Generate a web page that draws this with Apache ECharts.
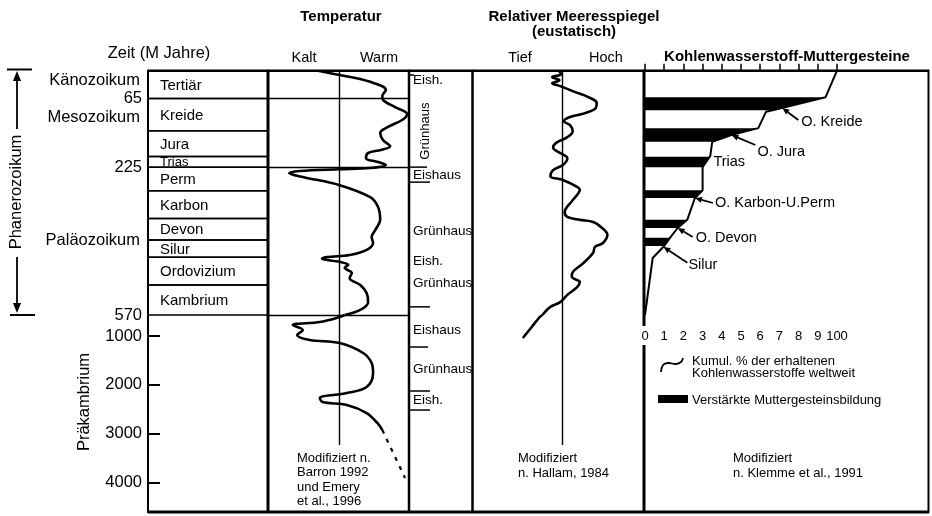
<!DOCTYPE html>
<html><head><meta charset="utf-8">
<script src="https://cdn.jsdelivr.net/npm/echarts@6/dist/echarts.min.js"></script>
<style>html,body{margin:0;padding:0;background:#fff}#chart{width:932px;height:516px}</style>
</head><body><div id="chart"></div>
<script>
// ---- Zeitskala (Millionen Jahre) ----
const periodNames = ['Tertiär','Kreide','Jura','Trias','Perm','Karbon','Devon','Silur','Ordovizium','Kambrium'];
const periodStart = [0,65,140,200,225,280,345,395,435,500];
const periodEnd   = [65,140,200,225,280,345,395,435,500,570];
const eraNames    = ['Känozoikum','Mesozoikum','Paläozoikum'];
const eraLabelAge = [22,110,395];
const phaneroTickLabels = [65,225,570];
const precambTickLabels = [1000,2000,3000,4000];

// ---- Temperatur (relativ: -1 kalt … +1 warm) ----
const tempAge = [0,10,26,45,59,68,85,101,115,131,145,162,176,185,192,204,213,220,227,230,234,239,248,267,295,318,348,372,388,402,418,430,435,439,446,453,460,472,484,500,519,540,558,570,611,713,775,877,979,1081,1143,1347,1552,1757,2043,2166,2268,2350,2411,2575,2779,2922];
const tempValue = [-0.30,0.01,0.44,0.66,0.61,0.62,0.79,0.96,0.89,0.69,0.58,0.62,0.72,0.59,0.41,0.38,0.55,0.66,0.44,0.01,-0.55,-0.70,-0.51,0.01,0.44,0.55,0.58,0.51,0.46,0.48,0.39,0.15,-0.17,-0.24,0.01,0.13,0.08,0.18,0.15,0.30,0.39,0.41,0.30,0.08,0.01,-0.27,-0.65,-0.51,-0.59,-0.41,0.01,0.34,0.46,0.48,0.39,0.11,-0.27,-0.23,0.11,0.39,0.54,0.61];
const tempUncertainAge = [2922,3904];
const tempUncertainValue = [0.61,0.93];

// ---- Eishaus / Grünhaus ----
const climateLabels   = ['Eish.','Grünhaus','Eishaus','Grünhaus','Eish.','Grünhaus','Eishaus','Grünhaus','Eish.'];
const climateLabelAge = [22,141,243,374,444,496,877,1675,2309];
const climateBounds   = [10,225,260,551,1225,2125,2514];

// ---- Relativer Meeresspiegel (relativ: -1 tief … +1 hoch) ----
const seaAge = [0,8,15,22,29,36,50,61,75,87,99,108,118,127,141,155,169,180,192,204,220,232,246,255,271,278,302,330,341,348,353,367,383,402,411,425,449,470,481,493,505,523,540,551,570,611,815,1040];
const seaValue = [-0.04,-0.01,-0.11,-0.03,-0.11,-0.02,0.15,0.29,0.39,0.38,0.26,0.09,0.02,0.09,0.12,0.06,-0.07,-0.10,-0.02,0.06,0.01,-0.10,-0.13,0.01,0.17,0.20,0.12,0.03,0.06,0.20,0.35,0.45,0.51,0.46,0.37,0.35,0.24,0.12,0.11,0.20,0.17,0.06,-0.02,-0.13,-0.22,-0.25,-0.34,-0.44];

// ---- Kohlenwasserstoff-Muttergesteine ----
const hcAge = [0,62,92,96,134,150,166,199,201,225,279,297,348,367,390,409,437,570];
const hcPct = [100,94,67,63,59,45,35,34,34,30,30,26,22,17,13,10,4,0];
const hcTickLabels = ['0','1','2','3','4','5','6','7','8','9','100'];
const sourceBandStart = [62,134,201,279,348,390];
const sourceBandEnd   = [92,166,225,297,367,409];
const hcNotes   = ['O. Kreide','O. Jura','Trias','O. Karbon-U.Perm','O. Devon','Silur'];
const hcNoteAge = [87,150,213,297,367,411];

// ---- Layout ----
const FONT = "'Liberation Sans', Arial, Helvetica, sans-serif";
const Y_TOP = 70.7, Y_MID = 315, Y_BOT = 512;
const PHANERO_END = 570, EARTH_AGE = 4600, LINE_END_AGE = 3230;
const boundLen = [5,18,21,21,19,21,21];
const verticalLabelIndex = 1;
// Pfeil-Versatz (px) vom Kurvenpunkt zum Pfeilende; null = ohne Pfeil
const noteArrow = [[16,12],[24,10],null,[18,5],[15,9],[24,16]];
const noteTextShift = [[3,2],[2,7],[7,0],[2,0],[3,1],[1,2]];

const chart = echarts.init(document.getElementById('chart'), null, {renderer:'canvas'});

function splitPhanero(ages, vals) {
  const top = [], bottom = [];
  ages.forEach((a, i) => {
    if (a <= PHANERO_END) top.push([vals[i], a]);
    if (a >= PHANERO_END) bottom.push([vals[i], a]);
  });
  return {top, bottom};
}
function hcAt(age) {
  for (let i = 1; i < hcAge.length; i++) {
    if (age <= hcAge[i]) {
      const t = (age - hcAge[i-1]) / (hcAge[i] - hcAge[i-1]);
      return hcPct[i-1] + t * (hcPct[i] - hcPct[i-1]);
    }
  }
  return 0;
}

const tempSplit = splitPhanero(tempAge, tempValue);
const seaSplit  = splitPhanero(seaAge, seaValue);

function gridPair(left, width) {
  return [
    {left, width, top: Y_TOP, height: Y_MID - Y_TOP},
    {left, width, top: Y_MID, height: Y_BOT - Y_MID}
  ];
}
const grids = [].concat(
  gridPair(148, 120),   // 0,1 Tabelle
  gridPair(268, 142),   // 2,3 Temperatur
  gridPair(409, 63),    // 4,5 Eis-/Grünhaus
  gridPair(473, 178),   // 6,7 Meeresspiegel
  [{left: 645, width: 192, top: Y_TOP, height: Y_MID - Y_TOP}] // 8 Muttergesteine
);

const hidden = {show:false};
function xAx(gridIndex, min, max) {
  return {gridIndex, type:'value', min, max, show:false};
}
function yAx(gridIndex, lower) {
  return {gridIndex, type:'value', inverse:true, show:false,
          min: lower ? PHANERO_END : 0, max: lower ? EARTH_AGE : PHANERO_END};
}
const xAxes = [xAx(0,0,1), xAx(1,0,1), xAx(2,-1,1), xAx(3,-1,1), xAx(4,0,1), xAx(5,0,1), xAx(6,-1,1), xAx(7,-1,1),
  {gridIndex:8, type:'value', min:0, max:100, interval:10, position:'bottom', offset:10,
   axisLine:{show:true, lineStyle:{color:'#000', width:2}},
   axisTick:{show:true, inside:true, length:7, lineStyle:{color:'#000', width:1.5}},
   axisLabel:{color:'#000', fontSize:13, fontFamily:FONT, margin:5,
              formatter: v => hcTickLabels[Math.round(v/10)]},
   splitLine:hidden}];
const yAxes = [
  {gridIndex:0, type:'value', inverse:true, min:0, max:PHANERO_END,
   axisLine:hidden, axisTick:hidden, splitLine:hidden,
   axisLabel:{show:true, customValues:phaneroTickLabels, color:'#000', fontSize:16.5, fontFamily:FONT, margin:6,
              formatter: v => String(v)}},
  {gridIndex:1, type:'value', inverse:true, min:PHANERO_END, max:EARTH_AGE,
   axisLine:hidden, splitLine:hidden,
   axisTick:{show:true, inside:true, length:12, customValues:precambTickLabels, lineStyle:{color:'#000', width:2}},
   axisLabel:{show:true, customValues:precambTickLabels, color:'#000', fontSize:16.5, fontFamily:FONT, margin:6,
              formatter: v => String(v)}},
  yAx(2,false), yAx(3,true), yAx(4,false), yAx(5,true), yAx(6,false), yAx(7,true), yAx(8,false)
];

const curveStyle = {color:'#000', width:2.6};
const refLine = {color:'#000', width:1.4, type:'solid'};
function curve(name, xi, data, markData, dashed) {
  return {type:'line', name, xAxisIndex:xi, yAxisIndex:xi, data, symbol:'none', smooth:0.35,
    lineStyle: dashed ? {color:'#000', width:2.2, type:[4,6]} : curveStyle,
    silent:true, animation:false, z:5,
    markLine: markData ? {symbol:'none', silent:true, label:hidden, lineStyle:refLine, data:markData, animation:false} : undefined};
}

// Periodentabelle
const periodSeries = {
  type:'custom', xAxisIndex:0, yAxisIndex:0, clip:false, silent:true, animation:false,
  data: periodStart.map((s, i) => [0, s, periodEnd[i], i]),
  renderItem: (params, api) => {
    const p0 = api.coord([0, api.value(1)]), p1 = api.coord([1, api.value(2)]);
    const h = p1[1] - p0[1];
    return {type:'group', children:[
      {type:'rect', shape:{x:p0[0], y:p0[1], width:p1[0]-p0[0], height:h},
       style:{fill:'none', stroke:'#000', lineWidth:1.5}},
      {type:'text', style:{text:periodNames[api.value(3)], x:p0[0]+12, y:p0[1]+h/2+1,
        verticalAlign:'middle', fill:'#000', fontFamily:FONT, fontSize: h < 14 ? 13 : 15}}
    ]};
  }
};
const eraSeries = {
  type:'custom', xAxisIndex:0, yAxisIndex:0, clip:false, silent:true, animation:false,
  data: eraLabelAge.map((a, i) => [0, a, i]),
  renderItem: (params, api) => {
    const p = api.coord([0, api.value(1)]);
    return {type:'text', style:{text:eraNames[api.value(2)], x:p[0]-8, y:p[1], align:'right',
      verticalAlign:'middle', fill:'#000', fontFamily:FONT, fontSize:16.5}};
  }
};

function climateSeries(gi, lower) {
  const inRange = a => lower ? a > PHANERO_END : a <= PHANERO_END;
  const items = [];
  climateLabelAge.forEach((a, i) => { if (inRange(a)) items.push([0, a, 0, i]); });
  climateBounds.forEach((a, i) => { if (inRange(a)) items.push([0, a, 1, i]); });
  return {type:'custom', xAxisIndex:gi, yAxisIndex:gi, clip:false, silent:true, animation:false,
    data: items,
    renderItem: (params, api) => {
      const p = api.coord([0, api.value(1)]);
      const i = api.value(3);
      if (api.value(2) === 1) {
        return {type:'line', shape:{x1:p[0], y1:p[1], x2:p[0]+boundLen[i], y2:p[1]},
          style:{stroke:'#000', lineWidth:1.5}};
      }
      if (i === verticalLabelIndex) {
        return {type:'text', x:p[0]+16, y:p[1], rotation:Math.PI/2,
          style:{text:climateLabels[i], x:0, y:0, align:'center', verticalAlign:'middle',
                 fill:'#000', fontFamily:FONT, fontSize:13}};
      }
      return {type:'text', style:{text:climateLabels[i], x:p[0]+4, y:p[1], verticalAlign:'middle',
        fill:'#000', fontFamily:FONT, fontSize:13.5}};
    }};
}

const bandSeries = {
  type:'custom', name:'Verstärkte Muttergesteinsbildung', xAxisIndex:8, yAxisIndex:8, silent:true, animation:false,
  data: sourceBandStart.map((s, i) => [0, s, sourceBandEnd[i]]),
  renderItem: (params, api) => {
    const s = api.value(1), e = api.value(2);
    const pts = [api.coord([0, s])];
    hcAge.forEach((a, k) => { if (a >= s && a <= e) pts.push(api.coord([hcPct[k], a])); });
    pts.push(api.coord([0, e]));
    return {type:'polygon', shape:{points:pts}, style:{fill:'#000'}};
  }
};
const noteSeries = {
  type:'custom', xAxisIndex:8, yAxisIndex:8, clip:false, silent:true, animation:false,
  data: hcNoteAge.map((a, i) => [hcAt(a), a, i]),
  renderItem: (params, api) => {
    const i = api.value(2);
    const p = api.coord([api.value(0), api.value(1)]);
    const children = [];
    let tx = p[0], ty = p[1];
    const arr = noteArrow[i];
    if (arr) {
      const tail = [p[0]+arr[0], p[1]+arr[1]];
      const len = Math.hypot(arr[0], arr[1]);
      const ux = arr[0]/len, uy = arr[1]/len;
      const head = 7, half = 3;
      const base = [p[0]+ux*head, p[1]+uy*head];
      children.push({type:'line', shape:{x1:base[0], y1:base[1], x2:tail[0], y2:tail[1]},
        style:{stroke:'#000', lineWidth:1.8}});
      children.push({type:'polygon', shape:{points:[[p[0],p[1]],
        [base[0]-uy*half, base[1]+ux*half],[base[0]+uy*half, base[1]-ux*half]]}, style:{fill:'#000'}});
      tx = tail[0]; ty = tail[1];
    }
    children.push({type:'text', style:{text:hcNotes[i], x:tx+noteTextShift[i][0], y:ty+noteTextShift[i][1],
      verticalAlign:'middle', fill:'#000', fontFamily:FONT, fontSize:14.5}});
    return {type:'group', children};
  }
};

// Rahmen und Beschriftungen
function ln(x1, y1, x2, y2, w) {
  return {type:'line', silent:true, shape:{x1, y1, x2, y2}, style:{stroke:'#000', lineWidth:w}};
}
function tx(text, x, y, size, opt) {
  return Object.assign({type:'text', silent:true, x, y,
    style:Object.assign({text, fill:'#000', fontFamily:FONT, fontSize:size, align:'center', verticalAlign:'middle'},
      (opt && opt.style) || {})}, (opt && opt.el) || {});
}
const graphics = [
  ln(148, Y_TOP, 929, Y_TOP, 2.5),
  ln(148, Y_BOT, 929, Y_BOT, 3),
  ln(148, Y_TOP-1, 148, Y_BOT+1, 2),
  ln(268, Y_TOP-1, 268, Y_BOT+1, 3),
  ln(409, Y_TOP-1, 409, Y_BOT+1, 2.5),
  ln(472.5, Y_TOP-1, 472.5, Y_BOT+1, 2.5),
  ln(644, Y_TOP-1, 644, 326, 3),
  ln(644, 345, 644, Y_BOT+1, 3),
  ln(928.5, Y_TOP-1, 928.5, Y_BOT+1, 2),
  // Phanerozoikum-Klammer
  ln(7, 69.5, 32, 69.5, 2),
  ln(10, Y_MID, 35, Y_MID, 2),
  ln(17, 78, 17, 129, 1.8),
  ln(17, 257, 17, 306, 1.8),
  {type:'polygon', silent:true, shape:{points:[[17,71],[13,81],[21,81]]}, style:{fill:'#000'}},
  {type:'polygon', silent:true, shape:{points:[[17,313],[13,303],[21,303]]}, style:{fill:'#000'}},
  tx('Phanerozoikum', 16, 192, 16.5, {el:{rotation:Math.PI/2}}),
  tx('Präkambrium', 84, 402, 16.5, {el:{rotation:Math.PI/2}}),
  tx('Zeit (M Jahre)', 159, 53, 16.5),
  tx('Temperatur', 341, 17, 15, {style:{fontWeight:'bold'}}),
  tx('Kalt', 304, 58, 14.5),
  tx('Warm', 379, 58, 14.5),
  tx('Relativer Meeresspiegel', 574, 17, 15, {style:{fontWeight:'bold'}}),
  tx('(eustatisch)', 574, 32, 15, {style:{fontWeight:'bold'}}),
  tx('Tief', 520, 58, 14.5),
  tx('Hoch', 606, 58, 14.5),
  tx('Kohlenwasserstoff-Muttergesteine', 787, 57, 15, {style:{fontWeight:'bold'}}),
  tx('Modifiziert n.\nBarron 1992\nund Emery\net al., 1996', 297, 480, 13, {style:{align:'left', lineHeight:14.3}}),
  tx('Modifiziert\nn. Hallam, 1984', 518, 466, 13, {style:{align:'left', lineHeight:15}}),
  tx('Modifiziert\nn. Klemme et al., 1991', 733, 466, 13, {style:{align:'left', lineHeight:15}}),
  // Legende
  {type:'polyline', silent:true, shape:{points:[[661,372],[663,365],[668,363],[676,364],[681,362],[683,358]], smooth:0.4},
   style:{stroke:'#000', lineWidth:1.8, fill:null}},
  tx('Kumul. % der erhaltenen\nKohlenwasserstoffe weltweit', 692, 367.5, 13, {style:{align:'left', lineHeight:11.7}}),
  {type:'rect', silent:true, shape:{x:658, y:395, width:30, height:8}, style:{fill:'#000'}},
  tx('Verstärkte Muttergesteinsbildung', 692, 400, 13, {style:{align:'left'}})
];

chart.setOption({
  animation:false,
  backgroundColor:'#fff',
  grid: grids,
  xAxis: xAxes,
  yAxis: yAxes,
  graphic: graphics,
  series: [
    periodSeries,
    eraSeries,
    curve('Temperatur', 2, tempSplit.top, [{xAxis:0}, {yAxis:65}, {yAxis:225}, {yAxis:PHANERO_END}]),
    curve('Temperatur', 3, tempSplit.bottom, [[{coord:[0, PHANERO_END]}, {coord:[0, LINE_END_AGE]}]]),
    curve('Temperatur (unsicher)', 3, tempUncertainAge.map((a, i) => [tempUncertainValue[i], a]), null, true),
    climateSeries(4, false),
    climateSeries(5, true),
    curve('Meeresspiegel', 6, seaSplit.top, [{xAxis:0}]),
    curve('Meeresspiegel', 7, seaSplit.bottom, [[{coord:[0, PHANERO_END]}, {coord:[0, LINE_END_AGE]}]]),
    bandSeries,
    {type:'line', name:'Kumul. % der erhaltenen Kohlenwasserstoffe weltweit', xAxisIndex:8, yAxisIndex:8,
     data: hcAge.map((a, i) => [hcPct[i], a]), symbol:'none', silent:true, animation:false, z:5,
     lineStyle:{color:'#000', width:2}},
    noteSeries
  ]
});
</script>
</body></html>
